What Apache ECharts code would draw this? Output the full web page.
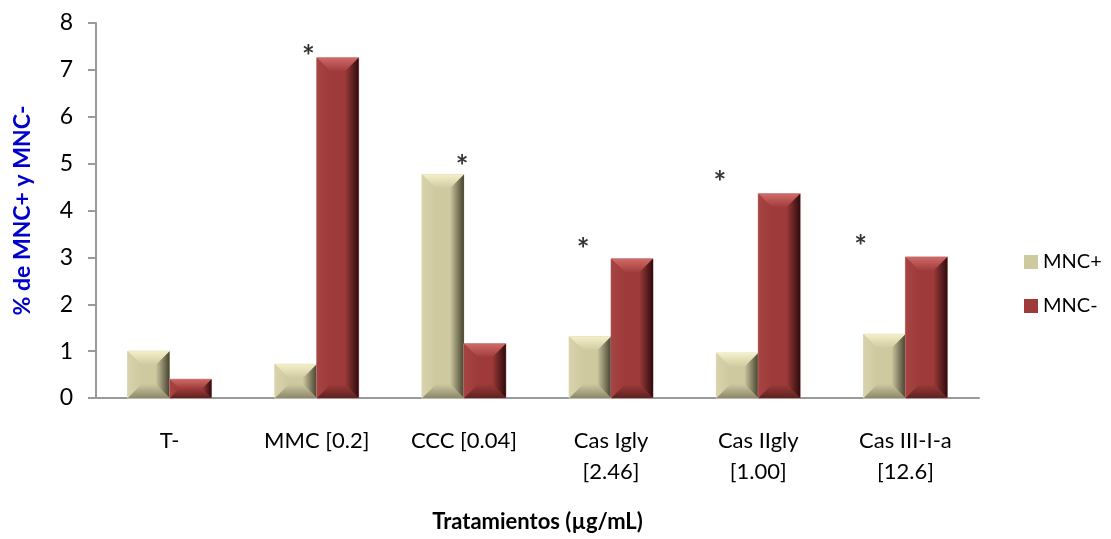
<!DOCTYPE html>
<html>
<head>
<meta charset="utf-8">
<script src="https://cdn.jsdelivr.net/npm/echarts@6/dist/echarts.min.js"></script>
<style>
html,body{margin:0;padding:0;background:#fff;}
#chart{width:1111px;height:539px;}
</style>
</head>
<body>
<div id="chart"></div>
<script>
const categories = ['T-', 'MMC [0.2]', 'CCC [0.04]', 'Cas Igly\n[2.46]', 'Cas IIgly\n[1.00]', 'Cas III-I-a\n[12.6]'];
const mncPlus = [1.0, 0.72, 4.77, 1.31, 0.96, 1.36];
const mncMinus = [0.40, 7.26, 1.16, 2.97, 4.36, 3.01];
// significance asterisks: position along category axis (0 = left edge) and value
const starX = [1.443, 2.488, 3.31, 4.24, 5.195];
const starY = [7.42, 5.07, 3.31, 4.72, 3.37];
const yTicks = [0, 1, 2, 3, 4, 5, 6, 7, 8];

const FONT = 'Lato, "Open Sans", sans-serif';

const palettes = {
  plus: {face:'#CFC9A0', top:'#F4F0C8', left:'#D8D3AC', right:'#45432F', bottom:'#8C886A', edge:'#E0DCC0'},
  minus:{face:'#9E3B3A', top:'#D06A68', left:'#A54442', right:'#2E0C0C', bottom:'#5E2220', edge:'#C89090'}
};

function bevelRenderer(side, pal) {
  return function(params, api) {
    const idx = api.value(0);
    const v = api.value(1);
    const base = api.coord([idx, 0]);
    const top = api.coord([idx, v]);
    const band = api.size([1, 0])[0];
    const w = band * 0.285;
    const x0 = side === 'plus' ? base[0] - w : base[0];
    const x1 = x0 + w;
    const y0 = top[1], y1 = base[1];
    const h = y1 - y0;
    const b = Math.min(14, h / 2, w / 2);
    const lg = (x1_, y1_, x2_, y2_, c1, c2) => ({type:'linear', x:x1_, y:y1_, x2:x2_, y2:y2_, colorStops:[{offset:0,color:c1},{offset:1,color:c2}]});
    return {
      type: 'group',
      children: [
        {type:'rect', shape:{x:x0, y:y0, width:w, height:h}, style:{fill:pal.face, stroke:pal.edge, lineWidth:1}},
        {type:'polygon', shape:{points:[[x0,y0],[x1,y0],[x1-b,y0+b],[x0+b,y0+b]]},
          style:{fill:lg(0,0,0,1,pal.top,pal.face)}},
        {type:'polygon', shape:{points:[[x0,y1],[x1,y1],[x1-b,y1-b],[x0+b,y1-b]]},
          style:{fill:lg(0,1,0,0,pal.bottom,pal.face)}},
        {type:'polygon', shape:{points:[[x0,y0],[x0+b,y0+b],[x0+b,y1-b],[x0,y1]]},
          style:{fill:lg(0,0,1,0,pal.left,pal.face)}},
        {type:'polygon', shape:{points:[[x1,y0],[x1-b,y0+b],[x1-b,y1-b],[x1,y1]]},
          style:{fill:lg(1,0,0,0,pal.right,pal.face)}}
      ]
    };
  };
}

const chart = echarts.init(document.getElementById('chart'), null, {renderer:'canvas'});
chart.setOption({
  animation: false,
  textStyle: {fontFamily: FONT},
  grid: {left: 96, right: 132, top: 23, bottom: 141, containLabel: false},
  legend: {
    orient: 'vertical', left: 1019, top: 247, itemGap: 24,
    itemWidth: 14, itemHeight: 14,
    icon: 'rect',
    textStyle: {fontSize: 20, color: '#000', fontFamily: FONT},
    data: ['MNC+', 'MNC-']
  },
  xAxis: [{
    type: 'category', data: categories,
    axisLine: {lineStyle: {color: '#9a9a9a', width: 2}},
    axisTick: {show: false},
    axisLabel: {fontSize: 22, color: '#000', margin: 27, lineHeight: 31, interval: 0, fontFamily: FONT},
    name: 'Tratamientos (µg/mL)', nameLocation: 'middle', nameGap: 113,
    nameTextStyle: {fontSize: 22, fontWeight: 'bold', color: '#000', fontFamily: FONT}
  }, {
    type: 'value', min: 0, max: 6, show: false
  }],
  yAxis: {
    type: 'value', min: yTicks[0], max: yTicks[yTicks.length - 1], interval: 1,
    axisLine: {show: true, lineStyle: {color: '#9a9a9a', width: 2}},
    axisTick: {show: true, length: 8, inside: false, lineStyle: {color: '#9a9a9a', width: 2}},
    splitLine: {show: false},
    axisLabel: {fontSize: 23, color: '#000', margin: 23, fontFamily: FONT},
    name: '% de MNC+ y MNC-', nameLocation: 'middle', nameGap: 62, nameRotate: 90,
    nameTextStyle: {fontSize: 23, fontWeight: 'bold', color: '#0000CC', fontFamily: FONT}
  },
  series: [
    {
      name: 'MNC+', type: 'custom', xAxisIndex: 0,
      itemStyle: {color: palettes.plus.face},
      renderItem: bevelRenderer('plus', palettes.plus),
      encode: {x: 0, y: 1},
      data: mncPlus.map((v, i) => [i, v])
    },
    {
      name: 'MNC-', type: 'custom', xAxisIndex: 0,
      itemStyle: {color: palettes.minus.face},
      renderItem: bevelRenderer('minus', palettes.minus),
      encode: {x: 0, y: 1},
      data: mncMinus.map((v, i) => [i, v])
    },
    {
      name: 'sig', type: 'scatter', xAxisIndex: 1, symbolSize: 0,
      label: {show: true, position: 'inside', formatter: '*', fontSize: 30, fontWeight: 'bold', color: '#000', fontFamily: FONT, offset: [0, 7]},
      data: starX.map((x, i) => [x, starY[i]]),
      silent: true
    }
  ]
});
</script>
</body>
</html>
